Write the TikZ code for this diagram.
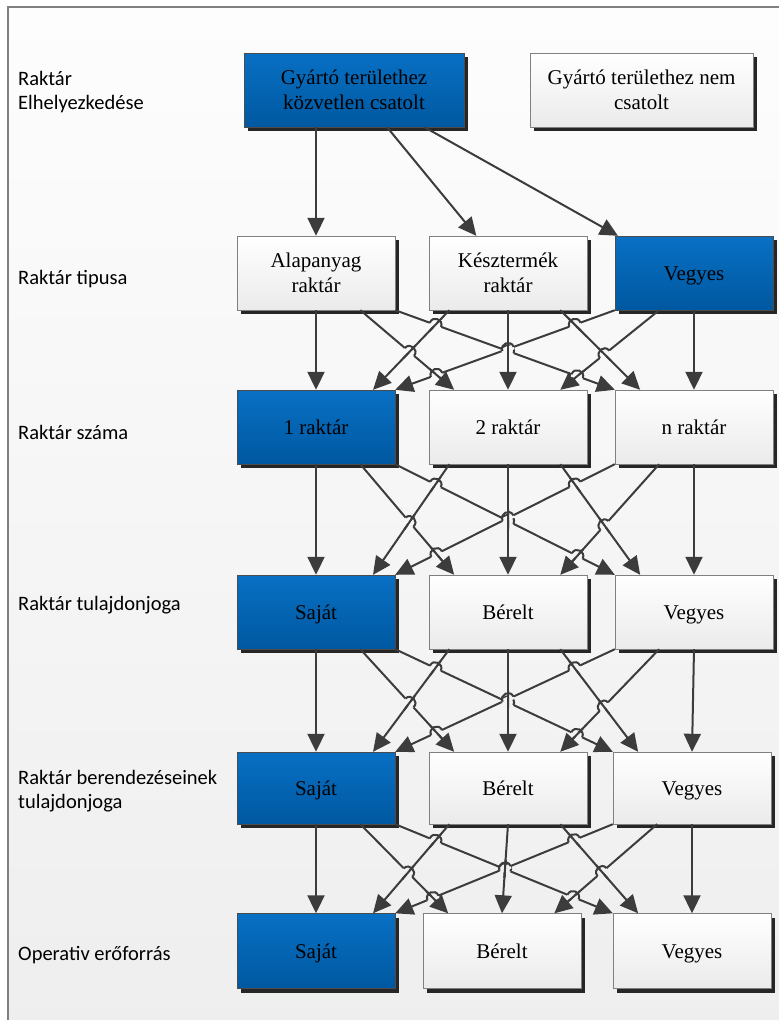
\documentclass[tikz,border=0pt]{standalone}
\usepackage{fontspec}
\setmainfont{Liberation Serif}
\newfontfamily\labelfont{Carlito}
\usetikzlibrary{calc,shadows,arrows.meta}

\definecolor{bluetop}{HTML}{0870C4}
\definecolor{bluebot}{HTML}{0058A0}
\definecolor{wire}{HTML}{3C3C3C}
\definecolor{bgtop}{HTML}{FDFDFD}
\definecolor{bgbot}{HTML}{EEEEEE}

% line jump: hopper #1--#2 (left end first) over straight #3--#4
\newcommand\hop[4]{%
  \coordinate (hx) at (intersection of #1--#2 and #3--#4);
  \draw[hopbg, line width=5bp] ($(hx)!6bp!(#1)$) -- ($(hx)!6bp!(#2)$);
  \draw[link] ($(hx)!9bp!(#3)$) -- ($(hx)!9bp!(#4)$);
  \draw[link] ($(hx)!6bp!(#1)$) to[bend left=90, looseness=1.7] ($(hx)!6bp!(#2)$);
}

% all nine connectors between two rows
\newcommand\band[3]{%
  \colorlet{hopbg}{bgbot!#3!bgtop}
  \coordinate (s12) at ($(#1a.south west)!.78!(#1a.south east)$);
  \coordinate (e12) at ($(#2b.north west)!.16!(#2b.north east)$);
  \coordinate (s13) at (#1a.south east);
  \coordinate (e13) at (#2c.north west);
  \coordinate (s21) at ($(#1b.south west)!.13!(#1b.south east)$);
  \coordinate (e21) at ($(#2a.north west)!.86!(#2a.north east)$);
  \coordinate (s22) at (#1b.south);
  \coordinate (e22) at (#2b.north);
  \coordinate (s23) at ($(#1b.south west)!.83!(#1b.south east)$);
  \coordinate (e23) at ($(#2c.north west)!.16!(#2c.north east)$);
  \coordinate (s31) at (#1c.south west);
  \coordinate (e31) at (#2a.north east);
  \coordinate (s32) at ($(#1c.south west)!.28!(#1c.south east)$);
  \coordinate (e32) at ($(#2b.north west)!.83!(#2b.north east)$);
  \draw[arrow] (#1a.south) -- (#2a.north);
  \draw[arrow] (s12) -- (e12);
  \draw[arrow] (s13) -- (e13);
  \draw[arrow] (s21) -- (e21);
  \draw[arrow] (s22) -- (e22);
  \draw[arrow] (s23) -- (e23);
  \draw[arrow] (s31) -- (e31);
  \draw[arrow] (s32) -- (e32);
  \draw[arrow] (#1c.south) -- (#2c.north);
  \hop{s12}{e12}{s21}{e21}
  \hop{e31}{s31}{s12}{e12}
  \hop{s13}{e13}{s21}{e21}
  \hop{s13}{e13}{s22}{e22}
  \hop{e31}{s31}{s22}{e22}
  \hop{s13}{e13}{s32}{e32}
  \hop{e31}{s31}{s23}{e23}
  \hop{e32}{s32}{s23}{e23}
}

\begin{document}
\begin{tikzpicture}[x=1bp, y=-1bp,
    box/.style={draw=black!50, minimum width=158bp, minimum height=74bp,
      align=center, font=\fontsize{21bp}{25bp}\selectfont,
      top color=white, bottom color=black!8,
      drop shadow={shadow xshift=4bp, shadow yshift=-4bp, fill=black!85, opacity=1}},
    pick/.style={box, top color=bluetop, bottom color=bluebot, draw=black!70},
    oneline/.style={text height=17bp, text depth=2bp},
    rowlabel/.style={anchor=west, align=left, inner sep=0pt,
      font=\labelfont\fontsize{20.5bp}{24bp}\selectfont},
    link/.style={draw=wire, line width=2bp},
    arrow/.style={link, -{Triangle[length=18bp, width=17bp]}}]
  \useasboundingbox (0,0) rectangle (779,1020);
  \draw[black!50, line width=1.2bp, top color=bgtop, bottom color=bgbot]
    (8,7) rectangle (800,1040);

  % row labels
  \node[rowlabel] (l1) at (18,92) {Raktár\\Elhelyezkedése};
  \node[rowlabel] (l2) at (18,279) {Raktár tipusa};
  \node[rowlabel] (l3) at (18,432) {Raktár száma};
  \node[rowlabel] (l4) at (18,605) {Raktár tulajdonjoga};
  \node[rowlabel] (l5) at (18,791) {Raktár berendezéseinek\\tulajdonjoga};
  \node[rowlabel] (l6) at (18,955) {Operativ erőforrás};

  % boxes
  \node[pick, minimum width=220bp] (gyc) at (354,90) {Gyártó területhez\\közvetlen csatolt};
  \node[box, minimum width=223bp] (gyn) at (641.5,90) {Gyártó területhez nem\\csatolt};

  \node[box] (r2a) at (316,273) {Alapanyag\\raktár};
  \node[box] (r2b) at (508,273) {Késztermék\\raktár};
  \node[pick, oneline] (r2c) at (694,273) {Vegyes};

  \node[pick, oneline] (r3a) at (316,427) {1 raktár};
  \node[box, oneline] (r3b) at (508,427) {2 raktár};
  \node[box, oneline] (r3c) at (694,427) {n raktár};

  \node[pick, oneline] (r4a) at (316,612) {Saját};
  \node[box, oneline] (r4b) at (508,612) {Bérelt};
  \node[box, oneline] (r4c) at (694,612) {Vegyes};

  \node[pick, oneline, minimum height=72bp] (r5a) at (316,788) {Saját};
  \node[box, oneline, minimum height=72bp] (r5b) at (508,788) {Bérelt};
  \node[box, oneline, minimum height=72bp] (r5c) at (692,788) {Vegyes};

  \node[pick, oneline, minimum height=75bp] (r6a) at (316,951) {Saját};
  \node[box, oneline, minimum height=75bp] (r6b) at (502,951) {Bérelt};
  \node[box, oneline, minimum height=75bp] (r6c) at (692,951) {Vegyes};

  % connectors
  \draw[arrow] (r2a.north |- gyc.south) -- (r2a.north);
  \draw[arrow] ($(gyc.south west)!.65!(gyc.south east)$) -- ($(r2b.north west)!.3!(r2b.north east)$);
  \draw[arrow] ($(gyc.south west)!.82!(gyc.south east)$) -- ($(r2c.north west)!.02!(r2c.north east)$);
  \band{r2}{r3}{34}
  \band{r3}{r4}{51}
  \band{r4}{r5}{69}
  \band{r5}{r6}{85}
\end{tikzpicture}
\end{document}
